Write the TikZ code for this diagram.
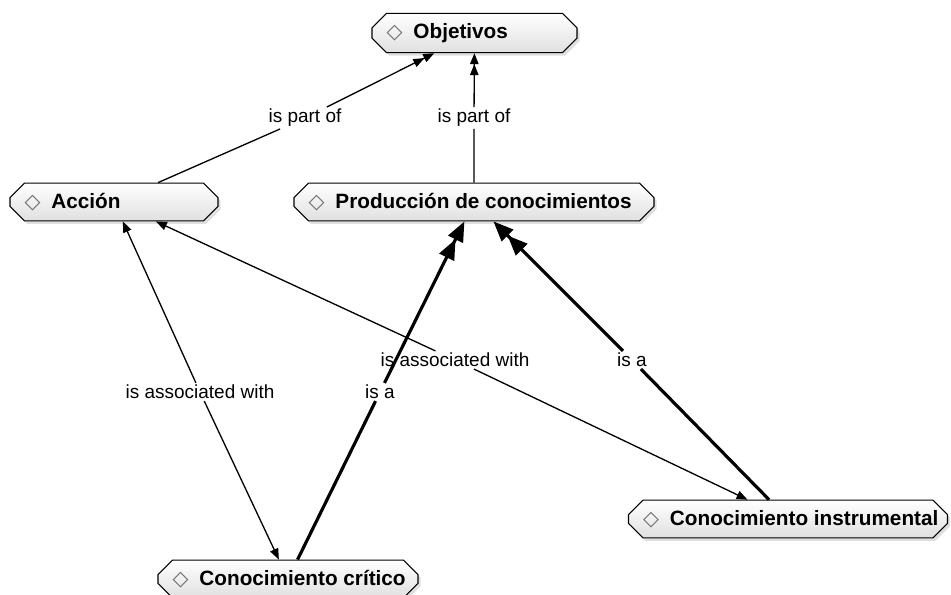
\documentclass[tikz,border=0pt]{standalone}
\usepackage{fontspec}
\setmainfont{Liberation Sans}
\newfontfamily\symfont{DejaVu Sans}
\usepackage{xcolor}
\usepackage{tikz}
\usetikzlibrary{shapes.misc, arrows.meta, shadows}
\definecolor{boxtop}{RGB}{255,255,255}
\definecolor{boxbot}{RGB}{224,224,224}
\definecolor{dmdgray}{RGB}{110,110,110}
\newcommand{\dmd}{{\symfont\color{dmdgray}◇}\hspace{0.22cm}}
\newcommand{\cpt}[2]{\makebox[#1][l]{\dmd #2}}
\tikzset{
  concept/.style={chamfered rectangle, chamfered rectangle xsep=0.09cm,
                  chamfered rectangle ysep=0.2cm, draw=black, line width=0.6pt,
                  top color=boxtop, bottom color=boxbot,
                  drop shadow={opacity=0.25, shadow xshift=0.05cm, shadow yshift=-0.06cm},
                  minimum height=0.58cm, inner xsep=0.2cm, inner ysep=0pt,
                  font=\fontsize{11.8}{14}\selectfont\bfseries},
  lbl/.style={fill=white, inner sep=1pt, font=\fontsize{10.8}{13}\selectfont},
  thin/.style={line width=0.75pt, draw=black},
  fat/.style={line width=1.8pt, draw=black},
  partof/.style={thin, -{Triangle[length=2.2mm,width=1.7mm]Triangle[length=2.2mm,width=1.7mm]}},
  isa/.style={fat, -{Triangle[length=4mm,width=3.2mm]Triangle[length=4mm,width=3.2mm]}},
  assoc/.style={thin, -{Triangle[length=2.2mm,width=1.7mm]}},
}

\begin{document}
\begin{tikzpicture}
\useasboundingbox (0,0) rectangle (19.02,-11.9);

% Conceptos
\node[concept] (obj)  at (9.49,-0.66)  {\cpt{3.52cm}{Objetivos}};
\node[concept] (acc)  at (2.28,-4.04)  {\cpt{3.58cm}{Acción}};
\node[concept] (prod) at (9.48,-4.04)  {\cpt{6.62cm}{Producción de conocimientos}};
\node[concept] (inst) at (15.76,-10.38) {\cpt{5.80cm}{Conocimiento instrumental}};
\node[concept] (crit) at (5.76,-11.58) {\cpt{4.62cm}{Conocimiento crítico}};

% Frases de enlace
\node[lbl] (l1) at (6.10,-2.36) {is part of};
\node[lbl] (l2) at (9.48,-2.36) {is part of};
\node[lbl] (l3) at (4.00,-7.84) {is associated with};
\node[lbl] (l4) at (7.60,-7.84) {is a};
\node[lbl] (l5) at (9.10,-7.20) {is associated with};
\node[lbl] (l6) at (12.64,-7.20) {is a};

% is part of
\draw[thin] (acc) -- (l1);
\draw[partof] (l1) -- (obj);
\draw[thin] (prod) -- (l2);
\draw[partof] (l2) -- (obj);

% is associated with
\draw[assoc] (l3) -- (acc);
\draw[assoc] (l3) -- (crit);
\draw[assoc] (l5) -- (acc);
\draw[assoc] (l5) -- (inst);

% is a
\draw[fat] (crit) -- (l4);
\draw[isa] (l4) -- (prod);
\draw[fat] (inst) -- (l6);
\draw[isa] (l6) -- (prod);

\end{tikzpicture}
\end{document}
